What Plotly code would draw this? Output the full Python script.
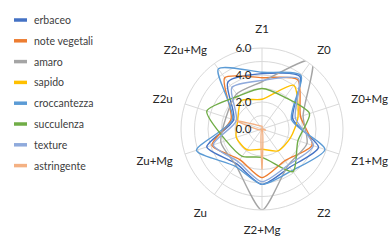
import plotly.graph_objects as go

categories = ["Z1", "Z0", "Z0+Mg", "Z1+Mg", "Z2", "Z2+Mg", "Zu", "Zu+Mg", "Z2u", "Z2u+Mg"]

erbaceo = [4.1, 4.8, 2.4, 4.4, 3.5, 4.1, 3.2, 4.3, 2.2, 4.3]
note_vegetali = [3.8, 4.5, 3.0, 3.9, 2.9, 3.6, 2.8, 3.9, 2.4, 4.7]
amaro = [3.5, 6.3, 3.2, 3.5, 3.3, 6.0, 3.3, 3.2, 2.8, 3.2]
sapido = [2.2, 4.0, 2.8, 2.2, 2.0, 1.5, 1.9, 2.0, 1.9, 2.6]
croccantezza = [4.2, 4.9, 2.3, 4.9, 3.8, 4.1, 3.4, 5.1, 2.3, 5.5]
succulenza = [3.0, 2.9, 3.7, 2.8, 3.9, 2.1, 2.5, 2.8, 4.3, 3.0]
texture = [3.6, 4.6, 2.6, 4.0, 3.3, 3.9, 3.0, 3.8, 2.0, 3.8]
astringente = [0.2, 0.0, 0.0, 0.3, 0.0, 3.0, 0.0, 0.2, 2.0, 0.3]

series_names = ["erbaceo", "note vegetali", "amaro", "sapido", "croccantezza",
                "succulenza", "texture", "astringente"]
series_values = [erbaceo, note_vegetali, amaro, sapido, croccantezza,
                 succulenza, texture, astringente]
series_colors = ["#4472C4", "#ED7D31", "#A5A5A5", "#FFC000", "#5B9BD5",
                 "#70AD47", "#8FAADC", "#F4B183"]

radial_ticks = [0, 1, 2, 3, 4, 5, 6]
radial_text = ["0.0", "", "2.0", "", "4.0", "", "6.0"]

fig = go.Figure()
for name, vals, col in zip(series_names, series_values, series_colors):
    fig.add_trace(go.Scatterpolar(
        r=vals + vals[:1], theta=categories + categories[:1],
        mode="lines", name=name, cliponaxis=False,
        line=dict(color=col, width=1.4, shape="spline", smoothing=0.7),
        showlegend=False,
    ))

# custom legend
leg_y0 = 20
leg_dy = 20.8
for i, (name, col) in enumerate(zip(series_names, series_colors)):
    y = leg_y0 + i * leg_dy
    fig.add_shape(type="line", xref="paper", yref="paper",
                  x0=14 / 390, x1=27 / 390, y0=1 - y / 250, y1=1 - y / 250,
                  line=dict(color=col, width=3.5))
    fig.add_annotation(x=32 / 390, y=1 - y / 250, xref="paper", yref="paper",
                       text=name, showarrow=False, xanchor="left", yanchor="middle",
                       font=dict(size=10.5, color="#404040", family="Lato"))

cx, cy, R = 262, 129, 81
fig.update_layout(
    width=390, height=250,
    margin=dict(l=0, r=0, t=0, b=0),
    paper_bgcolor="white", plot_bgcolor="white",
    font=dict(family="Lato", color="#404040", size=11),
    polar=dict(
        domain=dict(x=[(cx - R) / 390, (cx + R) / 390],
                    y=[1 - (cy + R) / 250, 1 - (cy - R) / 250]),
        bgcolor="white",
        angularaxis=dict(direction="clockwise", rotation=90,
                         showline=True, linecolor="#D9D9D9", linewidth=1,
                         gridcolor="#D9D9D9", gridwidth=1,
                         ticks="outside", ticklen=10, tickcolor="rgba(0,0,0,0)",
                         tickfont=dict(size=11.5, color="#262626")),
        radialaxis=dict(range=[0, 6], tickvals=radial_ticks, ticktext=radial_text,
                        angle=90, tickangle=90, showline=False,
                        ticks="outside", ticklen=6, tickcolor="rgba(0,0,0,0)",
                        gridcolor="#D9D9D9", gridwidth=1,
                        side="counterclockwise",
                        tickfont=dict(size=11.5, color="#262626")),
    ),
)

fig.write_html("out.html")
